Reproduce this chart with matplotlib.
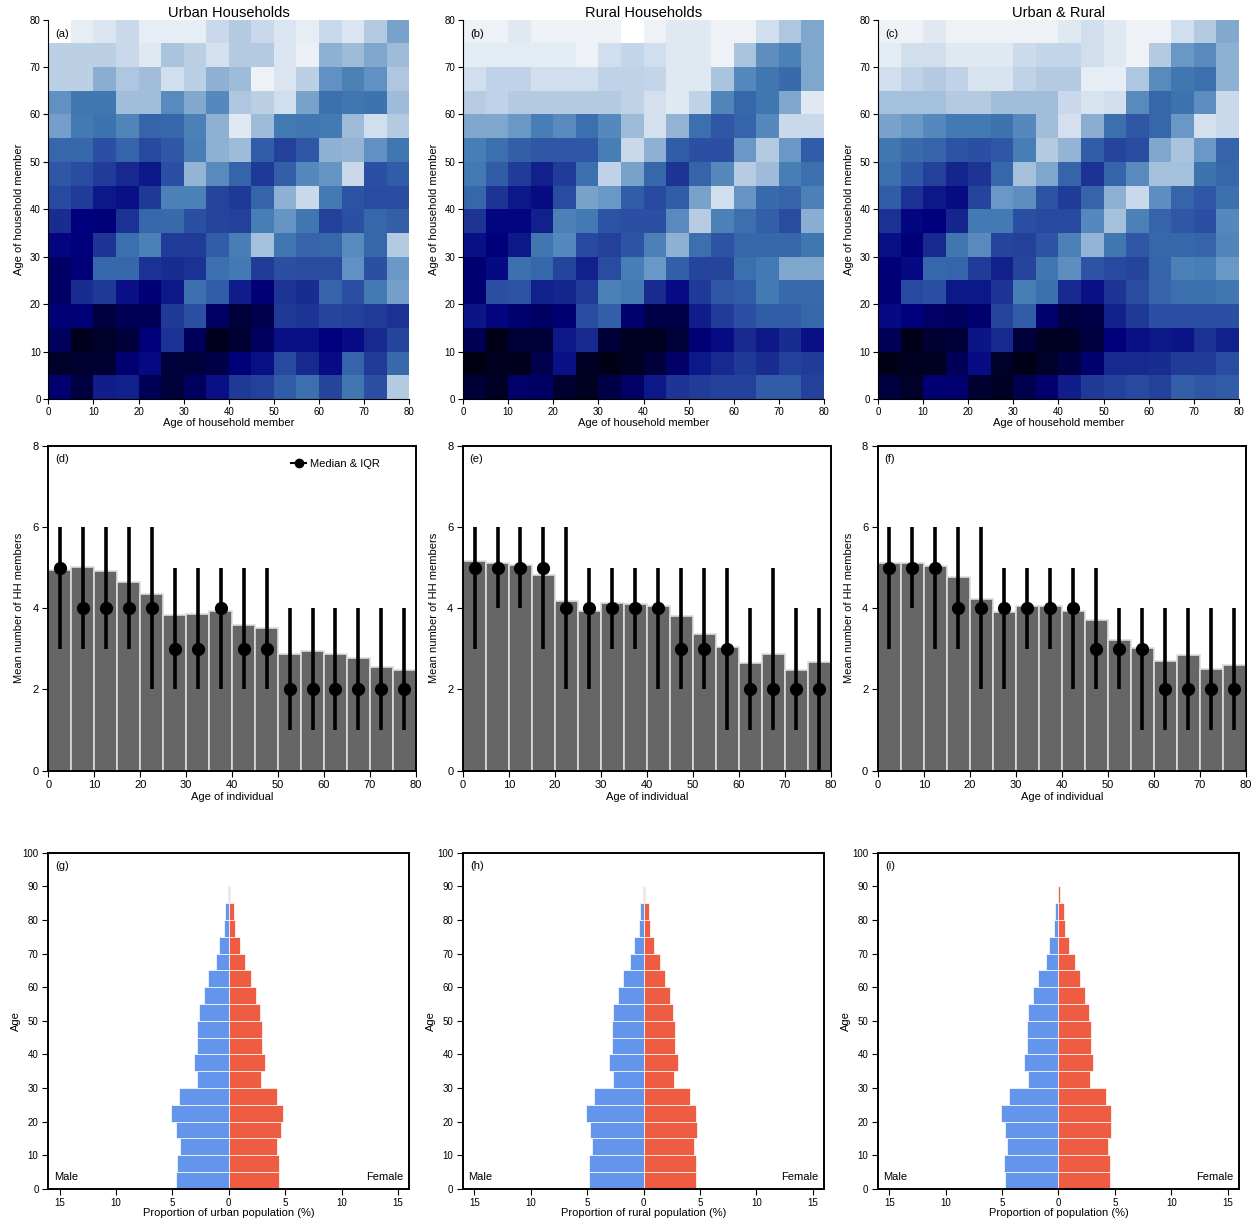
import numpy as np
import matplotlib.pyplot as plt
from matplotlib.colors import LinearSegmentedColormap
from matplotlib.lines import Line2D

plt.rcParams['font.family'] = ['Liberation Sans', 'DejaVu Sans']

### ---------------- Data ---------------- ###
age_edges = np.arange(0, 85, 5)
age_mid = np.arange(2.5, 80, 5)

# Contact level per 5-year band (0 = darkest / most contact, 10 = lightest)
# rows listed from age 75-80 (top) down to 0-5 (bottom), columns 0-5 ... 75-80
urban_level = [
    [10.5, 9.8, 9.5, 9.0, 9.8, 9.8, 9.8, 9.0, 8.5, 9.0, 9.5, 9.8, 9.0, 9.5, 8.5, 7.3],
    [8.7, 8.7, 8.7, 9.0, 9.6, 8.3, 8.7, 9.3, 8.5, 8.5, 9.5, 9.9, 7.7, 8.0, 7.4, 8.0],
    [8.7, 8.7, 7.6, 8.4, 8.1, 9.2, 8.7, 7.7, 8.0, 10.0, 9.5, 8.7, 6.8, 6.3, 6.8, 8.4],
    [6.8, 6.0, 6.0, 8.1, 8.1, 6.6, 7.5, 6.5, 8.4, 8.7, 9.2, 7.3, 5.8, 6.0, 5.9, 8.0],
    [7.2, 6.1, 5.9, 6.4, 5.5, 5.6, 6.3, 7.7, 9.6, 8.0, 6.1, 6.0, 6.1, 8.0, 9.2, 8.5],
    [5.6, 5.6, 5.0, 5.5, 4.8, 5.2, 6.2, 7.7, 8.0, 5.3, 4.6, 5.2, 7.7, 7.8, 6.8, 6.0],
    [5.2, 4.9, 4.5, 4.0, 3.6, 5.0, 7.8, 6.6, 5.5, 4.4, 5.4, 6.5, 6.9, 9.0, 5.0, 5.3],
    [4.8, 4.5, 3.6, 3.4, 4.4, 6.3, 6.3, 4.7, 4.4, 5.5, 7.7, 9.0, 6.1, 5.1, 4.9, 4.9],
    [4.1, 3.0, 2.9, 4.2, 5.6, 5.7, 5.0, 4.7, 4.6, 6.2, 6.9, 6.0, 4.6, 5.0, 5.6, 5.4],
    [3.1, 2.9, 4.3, 5.8, 6.3, 4.5, 4.5, 5.3, 6.2, 8.2, 6.0, 5.5, 5.6, 6.6, 5.6, 8.5],
    [2.3, 2.8, 5.6, 5.6, 4.2, 4.1, 4.2, 5.8, 6.1, 4.5, 5.0, 4.9, 4.9, 6.8, 5.0, 7.0],
    [2.3, 4.1, 4.4, 3.4, 2.8, 3.6, 5.8, 5.3, 3.7, 2.8, 4.3, 4.1, 5.5, 5.0, 6.1, 7.2],
    [2.8, 2.8, 1.4, 1.9, 2.0, 4.4, 5.0, 2.3, 1.3, 1.7, 4.4, 4.3, 4.7, 4.6, 4.5, 4.2],
    [2.2, 0.5, 0.9, 1.3, 2.9, 4.2, 2.1, 0.5, 1.1, 2.2, 3.4, 3.4, 3.0, 3.3, 4.0, 4.7],
    [0.9, 1.0, 1.1, 2.7, 3.2, 1.3, 1.3, 1.6, 2.8, 3.4, 4.8, 4.0, 3.3, 5.5, 4.5, 5.7],
    [2.6, 1.4, 3.7, 3.8, 2.0, 1.3, 2.2, 3.4, 4.4, 4.6, 5.3, 5.8, 4.7, 6.0, 5.0, 8.5],
]

rural_level = [
    [10.0, 10.0, 9.6, 10.0, 10.0, 10.0, 10.0, 10.5, 10.0, 9.6, 9.6, 10.0, 10.0, 9.2, 8.4, 7.4],
    [9.7, 9.7, 9.7, 9.7, 9.7, 10.0, 9.2, 8.9, 9.2, 9.6, 9.6, 10.0, 8.3, 6.7, 6.3, 7.4],
    [9.2, 8.8, 8.8, 9.2, 9.2, 9.2, 8.8, 8.8, 8.9, 9.6, 9.6, 8.3, 6.5, 6.0, 5.7, 7.4],
    [8.6, 8.8, 8.5, 8.5, 8.5, 8.5, 8.5, 8.8, 9.3, 9.6, 8.8, 6.4, 5.6, 6.0, 7.4, 9.6],
    [7.4, 7.4, 7.0, 6.2, 6.6, 5.8, 6.5, 8.0, 9.3, 7.8, 5.8, 5.2, 5.5, 6.5, 9.0, 9.0],
    [6.2, 5.8, 5.4, 5.2, 5.2, 5.2, 6.2, 9.0, 7.7, 5.3, 5.0, 5.0, 7.0, 8.5, 7.0, 5.3],
    [6.1, 5.3, 4.5, 3.8, 4.5, 5.8, 8.8, 7.3, 5.6, 4.3, 5.5, 6.5, 8.6, 8.0, 6.2, 5.8],
    [5.6, 4.3, 3.6, 3.3, 4.9, 7.3, 7.0, 5.3, 4.8, 5.3, 7.3, 9.2, 6.9, 5.7, 5.5, 6.3],
    [4.3, 3.1, 3.1, 3.8, 6.3, 6.1, 5.1, 5.0, 5.0, 6.6, 8.6, 6.3, 5.8, 5.4, 4.9, 7.6],
    [3.4, 2.9, 3.6, 6.0, 6.5, 4.8, 4.6, 5.1, 6.3, 7.7, 5.8, 5.1, 5.6, 5.6, 5.6, 6.0],
    [2.7, 3.2, 5.8, 5.6, 4.7, 3.8, 4.9, 6.2, 7.0, 5.4, 4.7, 4.7, 5.8, 6.1, 7.4, 7.4],
    [2.7, 5.0, 5.1, 3.8, 3.9, 4.5, 6.3, 6.1, 4.1, 3.3, 4.4, 5.2, 5.3, 6.1, 5.7, 5.7],
    [3.5, 3.1, 2.6, 2.3, 2.7, 4.9, 5.4, 2.6, 1.6, 1.6, 3.7, 4.5, 5.0, 5.3, 5.3, 5.6],
    [1.9, 0.4, 1.2, 1.2, 3.6, 4.0, 1.2, 0.6, 0.6, 1.3, 2.8, 3.3, 4.0, 3.6, 4.1, 3.4],
    [0.2, 0.6, 0.5, 1.8, 3.4, 0.7, 0.3, 0.6, 1.3, 2.4, 3.6, 4.0, 4.4, 4.1, 4.6, 4.5],
    [1.2, 0.7, 2.5, 2.3, 1.0, 0.6, 1.6, 2.4, 3.6, 4.3, 4.5, 4.6, 4.6, 5.3, 5.3, 4.6],
]

all_level = [
    [10.0, 10.0, 9.6, 10.0, 10.0, 10.0, 10.0, 10.0, 9.6, 9.2, 9.6, 10.0, 10.0, 9.2, 8.5, 7.5],
    [9.7, 9.2, 9.2, 9.6, 9.6, 9.6, 9.1, 8.9, 8.9, 9.2, 9.6, 10.0, 8.5, 7.0, 6.6, 7.7],
    [9.2, 8.8, 8.5, 8.8, 9.4, 9.4, 8.8, 8.5, 8.5, 9.8, 9.8, 8.4, 6.6, 6.0, 5.8, 7.7],
    [8.2, 8.2, 8.2, 8.5, 8.5, 8.1, 8.1, 8.1, 9.0, 9.4, 9.2, 6.6, 5.6, 5.9, 6.7, 9.0],
    [7.3, 7.0, 6.5, 6.1, 6.1, 5.9, 6.5, 8.1, 9.3, 7.6, 5.8, 5.2, 5.6, 7.0, 9.3, 9.0],
    [6.0, 5.7, 5.5, 5.1, 5.0, 5.2, 6.2, 8.5, 7.8, 5.3, 4.7, 4.9, 7.4, 8.3, 7.0, 5.5],
    [5.8, 5.2, 4.6, 3.9, 4.3, 5.6, 8.2, 7.4, 5.5, 4.2, 5.5, 6.6, 8.2, 8.2, 5.9, 5.6],
    [5.3, 4.2, 3.6, 3.3, 4.7, 7.0, 6.7, 5.1, 4.5, 5.5, 7.7, 9.0, 6.7, 5.5, 5.2, 5.8],
    [4.2, 3.1, 3.0, 3.9, 6.1, 6.1, 5.0, 4.8, 4.8, 6.5, 8.2, 6.3, 5.5, 5.2, 5.0, 6.5],
    [3.4, 2.9, 4.0, 6.0, 6.6, 4.7, 4.6, 5.1, 6.3, 7.8, 6.0, 5.2, 5.6, 5.6, 5.5, 6.4],
    [2.8, 3.2, 5.6, 5.5, 4.5, 3.8, 4.7, 6.0, 6.7, 5.1, 4.8, 4.7, 5.5, 6.3, 6.2, 7.0],
    [2.8, 4.8, 5.0, 3.6, 3.6, 4.3, 6.2, 5.8, 4.0, 3.4, 4.3, 4.9, 5.5, 5.8, 5.8, 6.0],
    [3.2, 3.0, 2.4, 2.2, 2.6, 4.7, 5.3, 2.6, 1.5, 1.6, 3.8, 4.4, 5.0, 5.0, 5.0, 5.0],
    [2.0, 0.4, 1.1, 1.2, 3.5, 4.0, 1.3, 0.6, 0.7, 1.4, 2.9, 3.4, 3.6, 3.5, 4.2, 3.8],
    [0.3, 0.6, 0.6, 2.0, 3.3, 0.8, 0.4, 0.8, 1.5, 2.6, 4.0, 4.0, 4.1, 4.5, 4.5, 4.9],
    [1.4, 0.8, 2.7, 2.6, 1.1, 0.7, 1.8, 2.6, 3.7, 4.4, 4.6, 4.8, 4.6, 5.4, 5.2, 5.3],
]

# Household size by age of individual
urban_mean = [4.93, 5.02, 4.92, 4.64, 4.36, 3.84, 3.86, 3.92, 3.58, 3.50, 2.86, 2.94, 2.88, 2.78, 2.55, 2.47]
urban_med = [5, 4, 4, 4, 4, 3, 3, 4, 3, 3, 2, 2, 2, 2, 2, 2]
urban_q1 = [3, 3, 3, 3, 2, 2, 2, 2, 2, 2, 1, 1, 1, 1, 1, 1]
urban_q3 = [6, 6, 6, 6, 6, 5, 5, 5, 5, 5, 4, 4, 4, 4, 4, 4]

rural_mean = [5.15, 5.12, 5.07, 4.82, 4.18, 3.93, 4.12, 4.11, 4.05, 3.81, 3.36, 3.04, 2.64, 2.87, 2.49, 2.68]
rural_med = [5, 5, 5, 5, 4, 4, 4, 4, 4, 3, 3, 3, 2, 2, 2, 2]
rural_q1 = [3, 4, 4, 3, 2, 2, 3, 3, 2, 2, 2, 1, 1, 1, 1, 0]
rural_q3 = [6, 6, 6, 6, 6, 5, 5, 5, 5, 5, 5, 5, 4, 5, 4, 4]

all_mean = [5.11, 5.10, 5.04, 4.77, 4.22, 3.91, 4.05, 4.06, 3.92, 3.72, 3.22, 3.02, 2.71, 2.84, 2.50, 2.60]
all_med = [5, 5, 5, 4, 4, 4, 4, 4, 4, 3, 3, 3, 2, 2, 2, 2]
all_q1 = [3, 4, 3, 3, 2, 2, 3, 3, 2, 2, 2, 1, 1, 1, 1, 1]
all_q3 = [6, 6, 6, 6, 6, 5, 5, 5, 5, 5, 4, 4, 4, 4, 4, 4]

# Population pyramids, % of population, bands 0-5 ... 85-90
pyr_bottom = np.arange(0, 90, 5)
urban_male = [4.64, 4.62, 4.35, 4.64, 5.09, 4.41, 2.78, 3.08, 2.84, 2.78, 2.66, 2.22, 1.80, 1.09, 0.83, 0.38, 0.30, 0.03]
urban_female = [4.41, 4.41, 4.26, 4.67, 4.79, 4.32, 2.87, 3.22, 2.96, 2.99, 2.78, 2.43, 1.95, 1.48, 0.98, 0.56, 0.44, 0.12]
rural_male = [4.82, 4.85, 4.58, 4.79, 5.09, 4.37, 2.74, 3.04, 2.80, 2.80, 2.68, 2.23, 1.85, 1.16, 0.86, 0.39, 0.33, 0.04]
rural_female = [4.61, 4.61, 4.43, 4.70, 4.64, 4.14, 2.74, 3.04, 2.83, 2.83, 2.65, 2.32, 1.90, 1.43, 0.95, 0.54, 0.45, 0.15]
all_male = [4.76, 4.79, 4.52, 4.76, 5.09, 4.37, 2.74, 3.04, 2.83, 2.80, 2.68, 2.23, 1.85, 1.13, 0.86, 0.39, 0.33, 0.04]
all_female = [4.55, 4.55, 4.40, 4.70, 4.70, 4.20, 2.77, 3.10, 2.89, 2.89, 2.68, 2.35, 1.93, 1.43, 0.95, 0.54, 0.45, 0.15]

### ---------------- Style ---------------- ###
cmap = LinearSegmentedColormap.from_list('hh_blues', [
    (0.0, '#00000c'), (0.1 / 1.05, '#000030'), (0.2 / 1.05, '#000058'),
    (0.3 / 1.05, '#00007f'), (0.4 / 1.05, '#17298f'), (0.5 / 1.05, '#2b50a2'),
    (0.6 / 1.05, '#3f77b1'), (0.7 / 1.05, '#6a98c6'), (0.8 / 1.05, '#9dbad8'),
    (0.9 / 1.05, '#c8d8ea'), (1.0 / 1.05, '#eef2f7'), (1.0, '#ffffff')])

male_col = '#6495ed'
female_col = '#ee5c42'
tick_fs = 7
lab_fs = 8

fig = plt.figure(figsize=(12.6, 12.28), dpi=100)
lefts = [0.0383, 0.3675, 0.6968]

heat_sets = [(urban_level, 'Urban Households', '(a)'),
             (rural_level, 'Rural Households', '(b)'),
             (all_level, 'Urban & Rural', '(c)')]
bar_sets = [(urban_mean, urban_med, urban_q1, urban_q3, '(d)'),
            (rural_mean, rural_med, rural_q1, rural_q3, '(e)'),
            (all_mean, all_med, all_q1, all_q3, '(f)')]
pyr_sets = [(urban_male, urban_female, '(g)', 'Proportion of urban population (%)'),
            (rural_male, rural_female, '(h)', 'Proportion of rural population (%)'),
            (all_male, all_female, '(i)', 'Proportion of population (%)')]

for i in range(3):
    # --- heatmap
    lvl, title, tag = heat_sets[i]
    ax = fig.add_axes([lefts[i], 0.6751, 0.2865, 0.309])
    ax.pcolormesh(age_edges, age_edges, np.flipud(np.array(lvl)), cmap=cmap, vmin=0, vmax=10.5)
    ax.set_xlim(0, 80)
    ax.set_ylim(0, 80)
    ax.set_xticks(np.arange(0, 81, 10))
    ax.set_yticks(np.arange(0, 81, 10))
    for s in ['top', 'right']:
        ax.spines[s].set_visible(False)
    ax.tick_params(direction='out', length=3.5, labelsize=tick_fs, pad=2)
    ax.set_xlabel('Age of household member', fontsize=lab_fs, labelpad=1)
    ax.set_ylabel('Age of household member', fontsize=lab_fs, labelpad=4)
    ax.set_title(title, fontsize=10.5, pad=1)
    ax.text(0.02, 0.975, tag, transform=ax.transAxes, va='top', ha='left', fontsize=lab_fs)

    # --- mean household size bars with median & IQR
    mean, med, q1, q3, tag = bar_sets[i]
    ax = fig.add_axes([lefts[i], 0.3724, 0.2918, 0.2647])
    ax.bar(age_mid, mean, width=5, color='#666666', edgecolor='#dddddd', linewidth=1.2)
    med = np.array(med)
    ax.errorbar(age_mid, med, yerr=[med - np.array(q1), np.array(q3) - med], fmt='o',
                color='black', ecolor='black', elinewidth=2.6, markersize=8.5, capsize=0)
    ax.set_xlim(0, 80)
    ax.set_ylim(0, 8)
    ax.set_xticks(np.arange(0, 81, 10))
    ax.set_yticks(np.arange(0, 9, 2))
    for s in ax.spines.values():
        s.set_linewidth(1.4)
    ax.tick_params(direction='out', length=4, labelsize=8, pad=3)
    ax.set_xlabel('Age of individual', fontsize=lab_fs, labelpad=1)
    ax.set_ylabel('Mean number of HH members', fontsize=lab_fs, labelpad=6)
    ax.text(0.018, 0.975, tag, transform=ax.transAxes, va='top', ha='left', fontsize=lab_fs)
    if i == 0:
        h = Line2D([], [], color='black', marker='o', markersize=6, linewidth=1.5)
        ax.legend([h], ['Median & IQR'], loc='upper right', frameon=False, fontsize=lab_fs,
                  handlelength=1.3, handletextpad=0.4, bbox_to_anchor=(0.93, 0.99))

    # --- population pyramid
    male, female, tag, xlab = pyr_sets[i]
    ax = fig.add_axes([lefts[i], 0.0320, 0.2865, 0.2736])
    ax.barh(pyr_bottom, -np.array(male), height=5, align='edge', color=male_col,
            edgecolor='white', linewidth=0.5)
    ax.barh(pyr_bottom, female, height=5, align='edge', color=female_col,
            edgecolor='white', linewidth=0.5)
    ax.set_xlim(-16, 16)
    ax.set_ylim(0, 100)
    ax.set_xticks(np.arange(-15, 16, 5))
    ax.set_xticklabels([str(abs(v)) for v in range(-15, 16, 5)])
    ax.set_yticks(np.arange(0, 101, 10))
    for s in ax.spines.values():
        s.set_linewidth(1.4)
    ax.tick_params(direction='out', length=4, labelsize=tick_fs, pad=3)
    ax.set_xlabel(xlab, fontsize=lab_fs, labelpad=0)
    ax.set_ylabel('Age', fontsize=lab_fs, labelpad=1)
    ax.text(0.02, 0.975, tag, transform=ax.transAxes, va='top', ha='left', fontsize=lab_fs)
    ax.text(0.015, 0.02, 'Male', transform=ax.transAxes, va='bottom', ha='left', fontsize=lab_fs)
    ax.text(0.985, 0.02, 'Female', transform=ax.transAxes, va='bottom', ha='right', fontsize=lab_fs)

fig.savefig('out.png', dpi=100)
